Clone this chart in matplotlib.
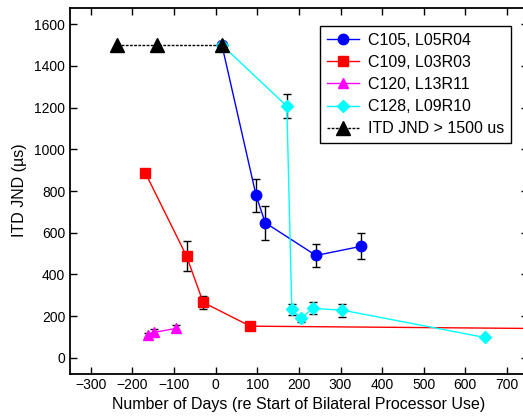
import matplotlib
matplotlib.use("Agg")
import matplotlib.pyplot as plt
from matplotlib.lines import Line2D

plt.rcParams['font.family'] = ['Liberation Sans', 'DejaVu Sans']

# C105, L05R04
c105_x = [15, 97, 119, 241, 350]
c105_y = [1500, 780, 648, 491, 535]
c105_err = [0, 80, 82, 56, 62]

# C109, L03R03
c109_x = [-169, -70, -30, 83, 1000]
c109_y = [887, 488, 266, 152, 137]
c109_err = [0, 70, 30, 20, 0]

# C120, L13R11
c120_x = [-162, -148, -96]
c120_y = [109, 122, 141]
c120_err = [8, 15, 16]

# C128, L09R10
c128_x = [15, 171, 183, 205, 233, 304, 646]
c128_y = [1500, 1207, 232, 189, 237, 229, 98]
c128_err = [0, 57, 26, 16, 29, 31, 0]

# ITD JND > 1500 us
big_x = [-238, -140, 15]
big_y = [1500, 1500, 1500]

fig = plt.figure(figsize=(5.23, 4.20), dpi=100)
ax = fig.add_axes([70/523, (420-373.5)/420, 457.8/523, 366/420])

def errs(x, y, e):
    xs = [a for a, b in zip(x, e) if b > 0]
    ys = [a for a, b in zip(y, e) if b > 0]
    es = [b for b in e if b > 0]
    ax.errorbar(xs, ys, yerr=es, fmt='none', ecolor='black', elinewidth=1,
                capsize=3, capthick=1, zorder=2)

errs(c105_x, c105_y, c105_err)
errs(c109_x, c109_y, c109_err)
errs(c120_x, c120_y, c120_err)
errs(c128_x, c128_y, c128_err)

ax.plot(c105_x, c105_y, '-', color='#0000FF', lw=1, marker='o', ms=7.5, zorder=3)
ax.plot(c109_x, c109_y, '-', color='#FF0000', lw=1, marker='s', ms=7.5, zorder=3)
ax.plot(c120_x, c120_y, '-', color='#FF00FF', lw=1, marker='^', ms=7.5, zorder=3)
ax.plot(c128_x, c128_y, '-', color='#00FFFF', lw=1, marker='D', ms=6, zorder=3)
ax.plot(big_x, big_y, color='black', lw=1, linestyle=(0, (2, 1)), marker='^', ms=10, zorder=4)

ax.set_xlim(-350, 750)
ax.set_ylim(-75, 1680)
ax.set_xticks(range(-300, 701, 100))
ax.set_yticks(range(0, 1601, 200))
ax.tick_params(direction='in', top=True, right=True, length=5, width=1, labelsize=10,
               color='black', labelcolor='black')
for s in ax.spines.values():
    s.set_linewidth(1.3)

ax.set_xlabel('Number of Days (re Start of Bilateral Processor Use)', fontsize=11.5, labelpad=3)
ax.set_ylabel('ITD JND (\u00b5s)', fontsize=11.5, labelpad=5)

handles = [
    Line2D([], [], color='#0000FF', lw=1, marker='o', ms=7.5),
    Line2D([], [], color='#FF0000', lw=1, marker='s', ms=7.5),
    Line2D([], [], color='#FF00FF', lw=1, marker='^', ms=7.5),
    Line2D([], [], color='#00FFFF', lw=1, marker='D', ms=6),
    Line2D([], [], color='black', lw=1, linestyle=(0, (2, 1)), marker='^', ms=10),
]
labels = ['C105, L05R04', 'C109, L03R03', 'C120, L13R11', 'C128, L09R10', 'ITD JND > 1500 us']
leg = ax.legend(handles, labels, loc='upper right', bbox_to_anchor=(0.963, 0.949),
                borderaxespad=0, fontsize=11.5, fancybox=False, framealpha=1,
                edgecolor='black', handlelength=2.0, labelspacing=0.45,
                borderpad=0.4, handletextpad=0.6)
leg.get_frame().set_linewidth(1)

fig.savefig('out.png', dpi=100)
